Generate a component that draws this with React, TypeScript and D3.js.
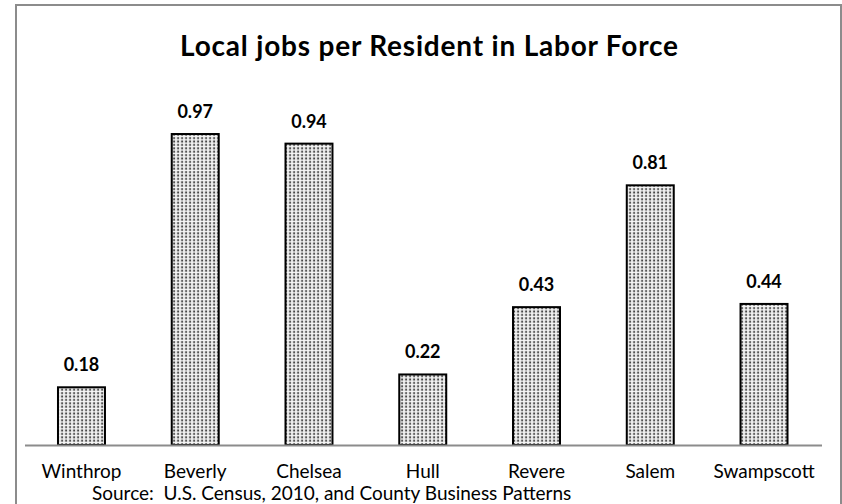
import * as d3 from 'd3';

const towns = ['Winthrop', 'Beverly', 'Chelsea', 'Hull', 'Revere', 'Salem', 'Swampscott'];
const jobsPerResident = [0.18, 0.97, 0.94, 0.22, 0.43, 0.81, 0.44];
const title = 'Local jobs per Resident in Labor Force';
const source = 'Source:  U.S. Census, 2010, and County Business Patterns';

const W = 842;
const H = 504;
const font = 'Lato, "Open Sans", sans-serif';

export default function App() {
  const x = d3.scaleBand().domain(towns).range([24.6, 820.9]).paddingInner(0.587).paddingOuter(0.2935);
  const y = d3.scaleLinear().domain([0, 1]).range([445, 124.4]);

  return (
    <svg
      width={W}
      height={H}
      style={{ position: 'absolute', left: 0, top: 0, display: 'block', background: '#fff' }}
    >
      <defs>
        <pattern id="dots" width="4" height="3.4" patternUnits="userSpaceOnUse">
          <rect width="4" height="3.4" fill="#e2e2e2" />
          <rect x="0" y="0" width="4" height="0.9" fill="#f8f8f8" />
          <rect x="1.2" y="1.2" width="1.8" height="1.8" fill="#444" />
        </pattern>
      </defs>
      <rect x={16} y={5} width={825} height={510} fill="none" stroke="#8c8c8c" strokeWidth={2} />
      <text
        x={429}
        y={56}
        textAnchor="middle"
        fontFamily={font}
        fontWeight="bold"
        fontSize={28}
        textLength={498}
        lengthAdjust="spacing"
      >
        {title}
      </text>
      {towns.map((t, i) => {
        const v = jobsPerResident[i];
        const bx = x(t) || 0;
        const cx = bx + x.bandwidth() / 2;
        return (
          <g key={t}>
            <rect
              x={bx}
              y={y(v)}
              width={x.bandwidth()}
              height={y(0) - y(v)}
              fill="url(#dots)"
              stroke="#000"
              strokeWidth={2}
            />
            <text x={cx} y={y(v) - 16} textAnchor="middle" fontFamily={font} fontWeight="bold" fontSize={18}>
              {v.toFixed(2)}
            </text>
            <text x={cx} y={478} textAnchor="middle" fontFamily={font} fontSize={19}>
              {t}
            </text>
          </g>
        );
      })}
      <line x1={25} x2={822} y1={445.5} y2={445.5} stroke="#8c8c8c" strokeWidth={2} />
      <text x={92} y={500} fontFamily={font} fontSize={19} style={{ whiteSpace: 'pre' }}>
        {source}
      </text>
    </svg>
  );
}
